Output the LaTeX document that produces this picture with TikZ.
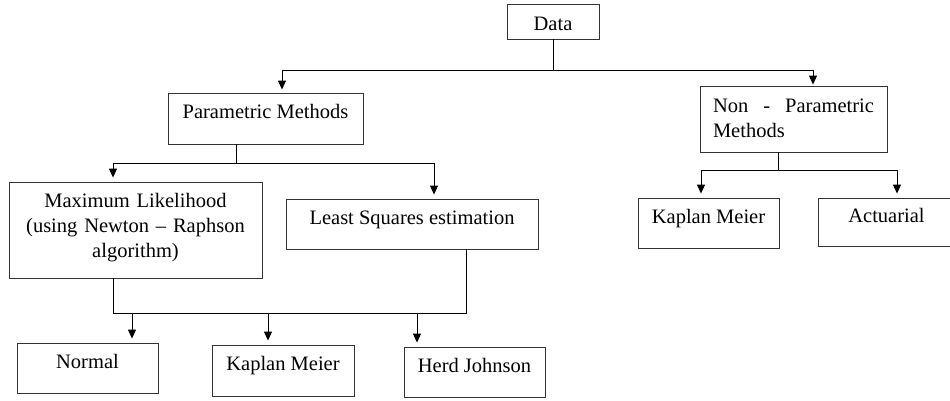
\documentclass[tikz,border=0pt]{standalone}
\usepackage{fontspec}
\setmainfont{Liberation Serif}
\usetikzlibrary{arrows.meta}

\begin{document}
\begin{tikzpicture}[x=1pt, y=-1pt, line width=0.9pt, font={\fontsize{20.5}{25}\selectfont},
  box/.style={draw=black!80, inner sep=0pt, text height=0pt, text depth=0pt},
  arr/.style={-{Triangle[length=9pt,width=8pt]}, shorten >=4pt}]
	\useasboundingbox (0,0) rectangle (950,400);
	\clip (0,0) rectangle (950,400);
	% boxes
	\node[box, minimum width=92pt, minimum height=35pt, text height=17pt] (data) at (553,21.5) {Data};
	\node[box, minimum width=195pt, minimum height=51pt] (param) at (265.5,118.5) {Parametric Methods};
	\node[box, text width=161pt, align=left, minimum width=187pt, minimum height=66pt, text depth=14pt] (nonparam) at (793.5,119) {Non \hfill - \hfill Parametric\\Methods};
	\node[box, text width=229pt, align=center, minimum width=253pt, minimum height=96pt, text depth=46pt] (ml) at (135.5,230) {Maximum Likelihood\\(using Newton – Raphson\\algorithm)};
	\node[box, minimum width=252pt, minimum height=50pt] (ls) at (412,224) {Least Squares estimation};
	\node[box, minimum width=141pt, minimum height=50pt] (km2) at (708.5,223) {Kaplan Meier};
	\node[box, minimum width=137pt, minimum height=48pt] (act) at (886.5,222) {Actuarial};
	\node[box, minimum width=141pt, minimum height=50pt] (normal) at (87.5,368) {Normal};
	\node[box, minimum width=142pt, minimum height=51pt] (km1) at (283,370.5) {Kaplan Meier};
	\node[box, minimum width=141pt, minimum height=50pt] (herd) at (474.5,372) {Herd Johnson};
	% connectors
	\coordinate (jdata) at (553,70);
	\draw (data.south) -- (jdata);
	\draw[arr, shorten >=3pt] (jdata) -| ([xshift=16.5pt]param.north);
	\draw[arr, shorten >=1pt] (jdata) -| ([xshift=19.5pt]nonparam.north);
	\coordinate (jparam) at (236,163);
	\draw (jparam |- param.south) -- (jparam);
	\draw[arr] (jparam) -| ([xshift=-22.5pt]ml.north);
	\draw[arr] (jparam) -| ([xshift=22pt]ls.north);
	\coordinate (jnon) at (778,170);
	\draw (jnon |- nonparam.south) -- (jnon);
	\draw[arr] (jnon) -| ([xshift=-7.5pt]km2.north);
	\draw[arr] (jnon) -| ([xshift=10.5pt]act.north);
	\coordinate (jlow) at (113,313);
	\draw (jlow |- ml.south) -- (jlow) -- ([xshift=54pt]ls.south |- jlow) -- ([xshift=54pt]ls.south);
	\foreach \n/\dx in {normal/44.5, km1/-15, herd/-57.5}
	  \draw[arr] ([xshift=\dx pt]\n.north |- jlow) -- ([xshift=\dx pt]\n.north);
\end{tikzpicture}
\end{document}
